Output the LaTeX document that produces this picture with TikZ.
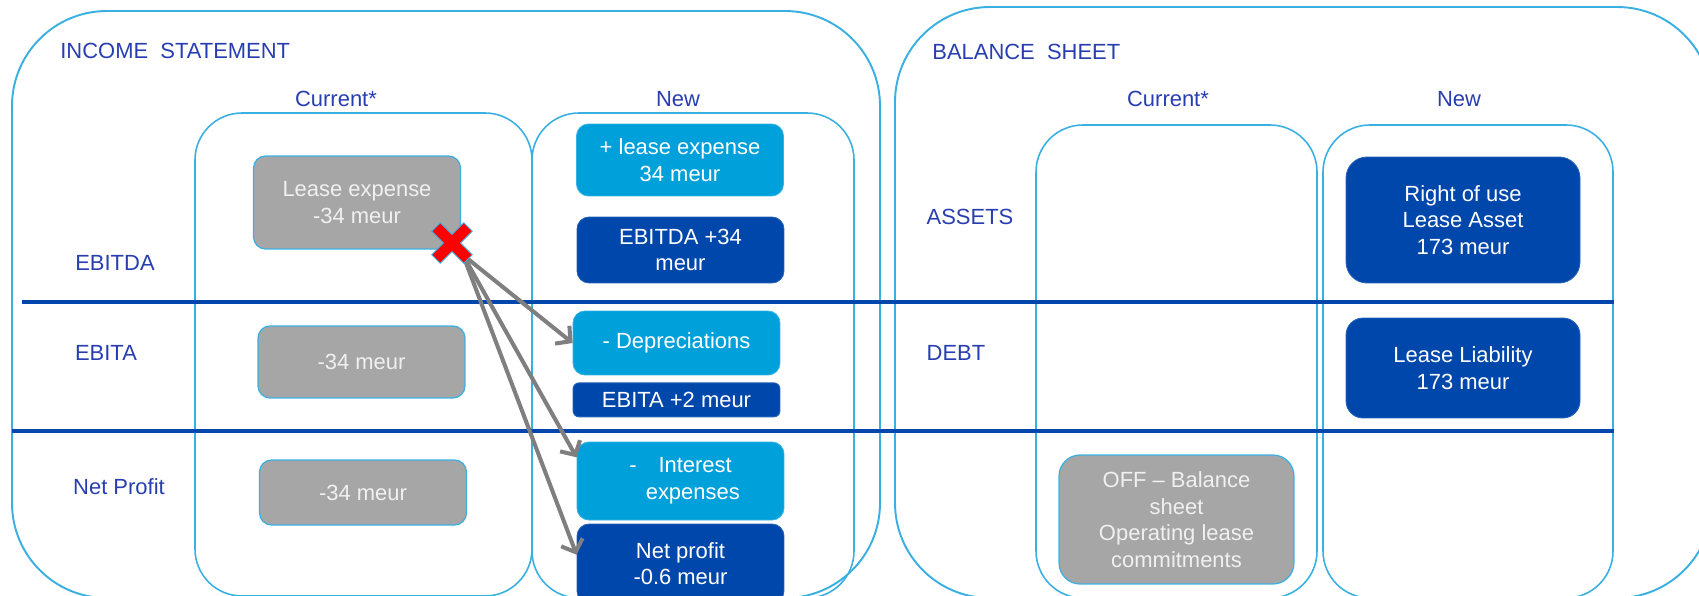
\documentclass[tikz,border=0pt]{standalone}
\usepackage{fontspec}
\setmainfont{Liberation Sans}
\usetikzlibrary{positioning, arrows.meta, calc}

\definecolor{frameblue}{RGB}{58,176,226}
\definecolor{ruleblue}{RGB}{0,70,173}
\definecolor{labelblue}{RGB}{40,62,176}
\definecolor{lightfill}{RGB}{0,160,218}
\definecolor{darkfill}{RGB}{0,71,171}
\definecolor{greyfill}{RGB}{166,166,166}
\definecolor{arrowgrey}{RGB}{127,127,127}

\tikzset{
	outerframe/.style={
		draw=frameblue,
		line width=1.1pt,
		rounded corners=1.9cm,
	},
	colframe/.style={
		draw=frameblue,
		line width=0.9pt,
		rounded corners=0.94cm,
	},
	divider/.style={
		draw=ruleblue,
		line width=2pt,
	},
	heading/.style={
		text=labelblue,
		font=\fontsize{12.5}{15}\selectfont,
		inner sep=0pt,
	},
	boxbase/.style={
		rectangle,
		align=center,
		text=white,
		font=\fontsize{12.5}{15.2}\selectfont,
		rounded corners=0.24cm,
		inner sep=0pt,
		minimum width=4.14cm,
	},
	greybox/.style={
		boxbase,
		fill=greyfill,
		draw=frameblue,
		line width=0.7pt,
		text=white!94!black,
	},
	lightbox/.style={
		boxbase,
		fill=lightfill,
		draw=lightfill!80!white,
		line width=0.5pt,
	},
	darkbox/.style={
		boxbase,
		fill=darkfill,
		draw=darkfill!85!white,
		line width=0.5pt,
	},
	link/.style={
		draw=arrowgrey,
		line width=2.3pt,
		-{Straight Barb[length=6pt,width=13pt]},
	},
}

\begin{document}
\begin{tikzpicture}[x=0.02cm, y=-0.02cm]
	\useasboundingbox (0,0) rectangle (1699,595);

	% frames of the two statements and their columns
	\draw[outerframe] (12,11) rectangle (880,598);
	\draw[outerframe] (895,7) rectangle (1712,598);
	\draw[colframe] (195,113) rectangle (532,596);
	\draw[colframe] (532,113) rectangle (854,598);
	\draw[colframe] (1036,125) rectangle (1317,598);
	\draw[colframe] (1323,125) rectangle (1613,598);

	% row dividers
	\draw[divider] (22,302) -- (1614,302);
	\draw[divider] (12,431) -- (1614,431);

	% titles and headings
	\node[heading, anchor=west] (istitle) at (60,51) {INCOME\ \ STATEMENT};
	\node[heading, anchor=west] (bstitle) at (932,52) {BALANCE\ \ SHEET};
	\node[heading] (icur) at (336,99) {Current*};
	\node[heading] (inew) at (678,99) {New};
	\node[heading] (bcur) at (1168,99) {Current*};
	\node[heading] (bnew) at (1459,99) {New};

	\node[heading] (rebitda) at (115,263) {EBITDA};
	\node[heading] (rebita) at (106,353) {EBITA};
	\node[heading] (rnet) at (119,487) {Net Profit};
	\node[heading] (rassets) at (970,217) {ASSETS};
	\node[heading] (rdebt) at (956,353) {DEBT};

	% income statement, current
	\node[greybox, minimum height=1.86cm] (lease) at (357,202.5) {Lease expense\\-34 meur};
	\node[greybox, minimum height=1.44cm] (ebitaold) at (361.5,362) {-34 meur};
	\node[greybox, minimum height=1.3cm] (netold) at (363,492.5) {-34 meur};

	% income statement, new
	\node[lightbox, minimum height=1.44cm] (plus) at (680,160) {+ lease expense\\34 meur};
	\node[darkbox, minimum height=1.32cm] (ebitda) at (680.5,250) {EBITDA +34\\meur};
	\node[lightbox, minimum height=1.28cm] (deprec) at (676.5,343) {- Depreciations};
	\node[darkbox, minimum height=0.68cm, rounded corners=0.12cm, below=0.14cm of deprec] (ebita) {EBITA +2 meur};
	\node[lightbox, minimum height=1.56cm] (interest) at (680.5,481) {-\quad Interest\\\hspace{14pt}expenses};
	\node[darkbox, minimum height=1.58cm] (netnew) at (680.5,563.5) {Net profit\\-0.6 meur};

	% balance sheet
	\node[darkbox, minimum width=4.68cm, minimum height=2.52cm, rounded corners=0.42cm] (rou) at (1463,220) {Right of use\\Lease Asset\\173 meur};
	\node[darkbox, minimum width=4.68cm, minimum height=2cm, rounded corners=0.34cm] (liab) at (1463,368) {Lease Liability\\173 meur};
	\node[greybox, minimum width=4.7cm, minimum height=2.58cm, rounded corners=0.42cm] (off) at (1176.5,519.5) {OFF – Balance\\sheet\\Operating lease\\commitments};

	% lease expense moves to the new lines
	\coordinate (cross) at (452,243);
	\coordinate (fan) at (463,255);
	\draw[link] (fan) -- (deprec.west);
	\draw[link] (fan) -- ($(interest.north west)!0.2!(interest.south west)$);
	\draw[link] (fan) -- ($(netnew.north west)!0.39!(netnew.south west)$);
	\filldraw[fill=red, draw=frameblue, line width=0.5pt, shift={(cross)}]
		(8.5,0) -- (20.2,11.8) -- (11.8,20.2) -- (0,8.5) -- (-11.8,20.2) -- (-20.2,11.8)
		-- (-8.5,0) -- (-20.2,-11.8) -- (-11.8,-20.2) -- (0,-8.5) -- (11.8,-20.2) -- (20.2,-11.8) -- cycle;
\end{tikzpicture}
\end{document}
